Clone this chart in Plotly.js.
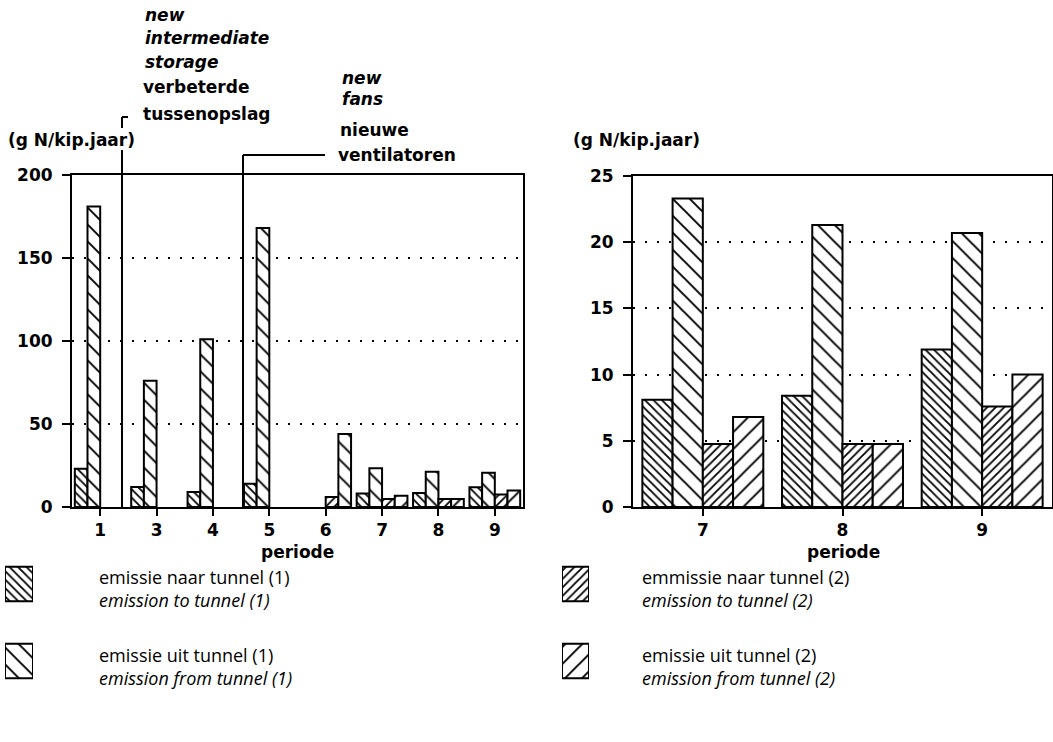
<!DOCTYPE html>
<html><head><meta charset="utf-8">
<script src="https://cdn.plot.ly/plotly-3.0.1.min.js"></script>
<style>html,body{margin:0;padding:0;background:#fff}#chart{width:1053px;height:742px}</style>
</head><body><div id="chart"></div>
<script>
// ---- data ----
const periodsLeft = ['1','3','4','5','6','7','8','9'];
const naarTunnel1Left = [23, 12, 9, 14, null, 8.1, 8.4, 11.9];
const uitTunnel1Left  = [181, 76, 101, 168, null, 23.3, 21.3, 20.7];
const naarTunnel2Left = [null, null, null, null, 6, 4.75, 4.75, 7.6];
const uitTunnel2Left  = [null, null, null, null, 44, 6.8, 4.75, 10.0];
const periodsRight = ['7','8','9'];
const naarTunnel1 = [8.1, 8.4, 11.9];
const uitTunnel1  = [23.3, 21.3, 20.7];
const naarTunnel2 = [4.75, 4.75, 7.6];
const uitTunnel2  = [6.8, 4.75, 10.0];
const yTicksLeft  = [0, 50, 100, 150, 200];
const yTicksRight = [0, 5, 10, 15, 20, 25];
const unitLabel = '(g N/kip.jaar)';
const xLabel = 'periode';
const legendLabels = [
  ['emissie naar tunnel (1)', 'emission to tunnel (1)'],
  ['emissie uit tunnel (1)', 'emission from tunnel (1)'],
  ['emmissie naar tunnel (2)', 'emission to tunnel (2)'],
  ['emissie uit tunnel (2)', 'emission from tunnel (2)']
];

// ---- helpers ----
const W = 1053, H = 742;
const px = x => x / W;
const py = y => 1 - y / H;
const HEL = 'DejaVu Sans';
const LEG = 'Open Sans';

const patterns = [
  {shape: '\\', size: 6, solidity: 0.3},
  {shape: '\\', size: 12, solidity: 0.16},
  {shape: '/', size: 6, solidity: 0.3},
  {shape: '/', size: 12, solidity: 0.16}
];
function marker(i, shapeOverride) {
  const p = Object.assign({}, patterns[i]);
  if (shapeOverride) p.shape = shapeOverride;
  return {color: 'white', line: {color: 'black', width: 2},
          pattern: Object.assign(p, {fgcolor: 'black', bgcolor: 'white', fgopacity: 1})};
}

const wL = 0.225, wR = 0.2165;
const traces = [];
const leftSeries = [naarTunnel1Left, uitTunnel1Left, naarTunnel2Left, uitTunnel2Left];
leftSeries.forEach((s, i) => {
  let m;
  if (i === 3) {
    // period 6: tall bar drawn with the sparse backslash hatch
    m = marker(i, periodsLeft.map(p => p === '6' ? '\\' : '/'));
  } else m = marker(i);
  traces.push({type: 'bar', x: periodsLeft, y: s, xaxis: 'x', yaxis: 'y',
    width: wL, offset: (i - 2) * wL, marker: m, showlegend: false, hoverinfo: 'skip'});
});
const rightSeries = [naarTunnel1, uitTunnel1, naarTunnel2, uitTunnel2];
rightSeries.forEach((s, i) => {
  traces.push({type: 'bar', x: periodsRight, y: s, xaxis: 'x2', yaxis: 'y2',
    width: wR, offset: (i - 2) * wR, marker: marker(i), showlegend: false, hoverinfo: 'skip'});
});
// legend swatches
[[0, 'x3', 'y3', 1], [1, 'x3', 'y3', 0], [2, 'x4', 'y4', 1], [3, 'x4', 'y4', 0]].forEach(([i, xa, ya, row]) => {
  traces.push({type: 'bar', orientation: 'h', x: [1], y: [row], xaxis: xa, yaxis: ya,
    width: 0.45, marker: marker(i), showlegend: false, hoverinfo: 'skip'});
});

const tickFont = {family: HEL, size: 17, color: 'black', weight: 'bold'};
function xax(domain, n) {
  return {domain: domain, type: 'category', range: [-0.5, n - 0.5], showline: true, linecolor: 'black',
    linewidth: 2, mirror: true, ticks: 'outside', ticklen: 7, tickwidth: 2, tickcolor: 'black',
    tickfont: tickFont, showgrid: false, zeroline: false, fixedrange: true, ticklabelstandoff: 0};
}
function yax(domain, max, ticks, anchor) {
  return {domain: domain, range: [0, max], tickvals: ticks, ticktext: ticks.map(String),
    showline: true, linecolor: 'black', linewidth: 2, mirror: true, ticks: 'outside', ticklen: 8,
    tickwidth: 2, tickcolor: 'black', tickfont: tickFont, showgrid: true, gridcolor: 'black',
    gridwidth: 2.2, griddash: '2px,10px', zeroline: false, fixedrange: true, anchor: anchor,
    ticklabelstandoff: 6};
}
const hidden = (domain, range, anchor) => ({domain: domain, range: range, visible: false, fixedrange: true, anchor: anchor});

const ann = [];
function txt(text, x, y, opts) {
  ann.push(Object.assign({text: text, x: px(x), y: py(y), xref: 'paper', yref: 'paper',
    xanchor: 'left', yanchor: 'middle', showarrow: false,
    font: {family: HEL, size: 17, color: 'black', weight: 'bold'}}, opts || {}));
}
const ital = {font: {family: HEL, size: 17, color: 'black', weight: 'bold', style: 'italic'}};
txt(unitLabel, 6, 140);
txt(unitLabel, 571, 140);
txt('new', 143, 15, ital);
txt('intermediate', 143, 38, ital);
txt('storage', 143, 62, ital);
txt('verbeterde', 141, 87);
txt('tussenopslag', 141, 114);
txt('new', 340, 78, ital);
txt('fans', 340, 99, ital);
txt('nieuwe', 338, 130);
txt('ventilatoren', 336, 155);
txt(xLabel, 297, 552, {xanchor: 'center'});
txt(xLabel, 843, 552, {xanchor: 'center'});
const legFont = {family: LEG, size: 18, color: 'black'};
const legFontI = {family: LEG, size: 18, color: 'black', style: 'italic'};
[[97, 577, 0], [97, 655, 1], [640, 577, 2], [640, 655, 3]].forEach(([x, y, k]) => {
  txt(legendLabels[k][0], x, y, {font: legFont});
  txt(legendLabels[k][1], x, y + 23, {font: legFontI});
});

const L = (x0, y0, x1, y1) => ({type: 'line', xref: 'paper', yref: 'paper',
  x0: px(x0), y0: py(y0), x1: px(x1), y1: py(y1), line: {color: 'black', width: 2}});
const shapes = [
  L(122, 150, 122, 507),
  L(122, 128, 122, 117), L(122, 117, 128, 117),
  L(243, 155, 243, 507), L(243, 155, 325, 155)
];

const layout = {
  width: W, height: H, margin: {l: 0, r: 0, t: 0, b: 0},
  paper_bgcolor: 'white', plot_bgcolor: 'white', barmode: 'overlay',
  showlegend: false,
  xaxis: Object.assign(xax([px(72), px(523)], periodsLeft.length), {anchor: 'y'}),
  yaxis: yax([py(507), py(175)], 200, yTicksLeft, 'x'),
  xaxis2: Object.assign(xax([px(633), px(1052)], periodsRight.length), {anchor: 'y2'}),
  yaxis2: yax([py(507), py(176)], 25, yTicksRight, 'x2'),
  xaxis3: hidden([px(5), px(33)], [0, 1], 'y3'),
  yaxis3: hidden([py(699.5), py(545.5)], [-0.5, 1.5], 'x3'),
  xaxis4: hidden([px(562), px(589)], [0, 1], 'y4'),
  yaxis4: hidden([py(699.5), py(545.5)], [-0.5, 1.5], 'x4'),
  annotations: ann, shapes: shapes
};
Plotly.newPlot('chart', traces, layout, {displayModeBar: false, staticPlot: true});
</script></body></html>
